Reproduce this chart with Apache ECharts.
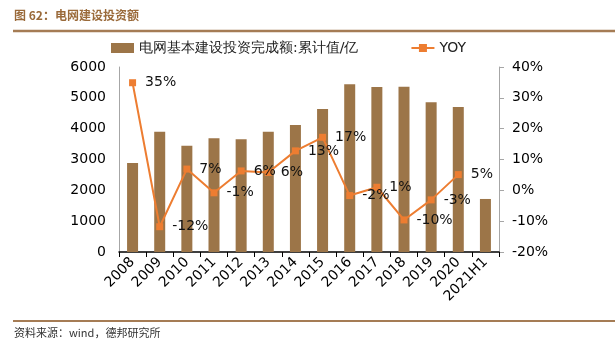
<!DOCTYPE html>
<html><head><meta charset="utf-8">
<script src="https://cdn.jsdelivr.net/npm/echarts@6/dist/echarts.min.js"></script>
<style>html,body{margin:0;padding:0;background:#fff}#c{width:615px;height:349px}</style>
</head><body><div id="c"></div>
<script>
const categories = ['2008','2009','2010','2011','2012','2013','2014','2015','2016','2017','2018','2019','2020','2021H1'];
const investment = [2890, 3900, 3450, 3690, 3655, 3900, 4120, 4640, 5440, 5350, 5360, 4855, 4700, 1720];
const yoy = [34.9, -11.8, 6.9, -0.8, 6.3, 5.8, 12.8, 17.2, -1.7, 1.0, -9.6, -3.1, 5.1, null];
const leftTicks = [0, 6000, 1000];
const rightTicks = [-20, 40, 10];

const chart = echarts.init(document.getElementById('c'));
const font = 'DejaVu Sans';
chart.setOption({
  animation: false,
  textStyle: {fontFamily: font},
  grid: {left: 119, right: 116, top: 67, bottom: 97},
  legend: {
    top: 36, left: 106, itemGap: 52,
    textStyle: {fontSize: 14, color: '#222', fontFamily: font},
    data: [
      {name: '电网基本建设投资完成额:累计值/亿', icon: 'rect', itemStyle: {color: '#9C7548'}},
      {name: 'YOY'}
    ],
    itemWidth: 23, itemHeight: 10
  },
  graphic: [
    {type: 'text', left: 14, top: 9, style: {text: '图 62：电网建设投资额', fill: '#9a6a3a', font: 'bold 12px "Noto Sans CJK SC"'}},
    {type: 'line', shape: {x1: 13, y1: 31, x2: 615, y2: 31}, style: {stroke: '#a57c55', lineWidth: 2.5}},
    {type: 'line', shape: {x1: 13, y1: 321, x2: 615, y2: 321}, style: {stroke: '#a57c55', lineWidth: 2}},
    {type: 'text', left: 14, top: 327, style: {text: '资料来源：wind，德邦研究所', fill: '#333', font: '11px "Noto Sans CJK SC"'}}
  ],
  xAxis: {
    type: 'category', data: categories,
    axisLine: {lineStyle: {color: '#000', width: 1.5}},
    axisTick: {show: true, alignWithLabel: false, length: 5, lineStyle: {color: '#000'}},
    axisLabel: {rotate: 45, fontSize: 14, color: '#000', margin: 8, interval: 0, fontFamily: font}
  },
  yAxis: [
    {type: 'value', min: leftTicks[0], max: leftTicks[1], interval: leftTicks[2],
     axisLine: {show: true, lineStyle: {color: '#a6a6a6'}},
     axisTick: {show: false}, splitLine: {show: false},
     axisLabel: {fontSize: 14, color: '#000', margin: 13, formatter: v => String(v), fontFamily: font}},
    {type: 'value', min: rightTicks[0], max: rightTicks[1], interval: rightTicks[2],
     axisLine: {show: true, lineStyle: {color: '#a6a6a6'}},
     axisTick: {show: true, length: 5, lineStyle: {color: '#a6a6a6'}}, splitLine: {show: false},
     axisLabel: {fontSize: 14, color: '#000', margin: 13, formatter: v => v + '%', fontFamily: font}}
  ],
  series: [
    {name: '电网基本建设投资完成额:累计值/亿', type: 'bar', data: investment, barWidth: 11,
     itemStyle: {color: '#9C7548'}},
    {name: 'YOY', type: 'line', yAxisIndex: 1, data: yoy,
     symbol: 'rect', symbolSize: 7, showAllSymbol: true,
     lineStyle: {color: '#ED7D31', width: 2}, itemStyle: {color: '#ED7D31'},
     label: {show: true, position: 'right', distance: 9, fontSize: 14, color: '#111',
       formatter: p => Math.round(p.value) + '%', fontFamily: font}}
  ]
});
</script></body></html>
